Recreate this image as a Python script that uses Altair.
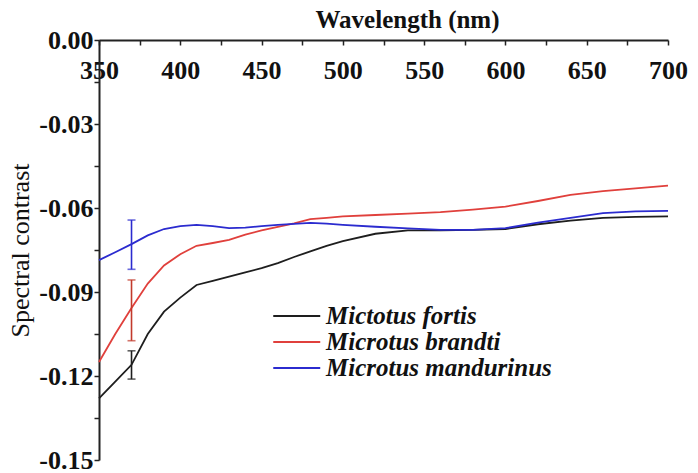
import altair as alt
import pandas as pd

wavelengths = [350, 360, 370, 380, 390, 400, 410, 420, 430, 440, 450, 460, 470,
               480, 490, 500, 520, 540, 560, 580, 600, 620, 640, 660, 680, 700]
fortis = [-0.128, -0.122, -0.116, -0.105, -0.097, -0.092, -0.0875, -0.086, -0.0845,
          -0.083, -0.0815, -0.0797, -0.0775, -0.0755, -0.0735, -0.0718, -0.0692,
          -0.068, -0.068, -0.0678, -0.0675, -0.0658, -0.0645, -0.0635, -0.0632, -0.063]
brandti = [-0.115, -0.105, -0.0957, -0.087, -0.0805, -0.0765, -0.0735, -0.0725,
           -0.0714, -0.0695, -0.068, -0.0667, -0.0655, -0.064, -0.0635, -0.063,
           -0.0625, -0.062, -0.0615, -0.0606, -0.0595, -0.0575, -0.0553, -0.054,
           -0.053, -0.052]
mandurinus = [-0.0786, -0.0758, -0.0729, -0.0698, -0.0675, -0.0665, -0.066, -0.0665,
              -0.0672, -0.067, -0.0665, -0.066, -0.0657, -0.0653, -0.0656, -0.066,
              -0.0667, -0.0673, -0.0678, -0.0678, -0.0672, -0.0652, -0.0635, -0.0618,
              -0.0612, -0.061]

series_names = ["Mictotus fortis", "Microtus brandti", "Microtus mandurinus"]
line_colors = ["#1e1e1e", "#e0403c", "#2b2bcf"]
bar_colors = ["#1e1e1e", "#c23a2c", "#2b2bcf"]

err_wl = [370, 370, 370]
err_low = [-0.1211, -0.1074, -0.0819]
err_high = [-0.111, -0.0857, -0.0643]

x_ticks = list(range(350, 701, 25))
y_ticks = [round(-0.15 + 0.015 * i, 3) for i in range(11)]

rows = []
for name, vals in zip(series_names, [fortis, brandti, mandurinus]):
    for w, v in zip(wavelengths, vals):
        rows.append({"wl": w, "val": v, "species": name})
df = pd.DataFrame(rows)

err_df = pd.DataFrame({"wl": err_wl, "lo": err_low, "hi": err_high,
                       "species": series_names})

serif = "Liberation Serif"

x_enc = alt.X("wl:Q", scale=alt.Scale(domain=[350, 700], nice=False, zero=False),
              axis=alt.Axis(orient="bottom", offset=-420, title=None, values=x_ticks,
                            labelExpr="datum.value % 50 == 0 ? datum.label : ''",
                            labelFont=serif, labelFontWeight="bold", labelFontSize=26,
                            labelColor="#111", labelFlush=False, labelOverlap=False,
                            labelPadding=12, tickSize=5, tickWidth=1.5, tickColor="#222",
                            domainWidth=2, domainColor="#222", grid=False))
y_enc = alt.Y("val:Q", scale=alt.Scale(domain=[-0.15, 0], nice=False, zero=False),
              axis=alt.Axis(title="Spectral contrast", values=y_ticks,
                            labelExpr="round(datum.value*1000) % 30 == 0 ? replace(format(datum.value, '.2f'), '\u2212', '-') : ''",
                            labelFont=serif, labelFontWeight="bold", labelFontSize=26,
                            labelColor="#111", labelPadding=1, labelOverlap=False,
                            labelFlush=False, labelOffset=0,
                            tickSize=5, tickWidth=1.5, tickColor="#222",
                            domainWidth=2, domainColor="#222", grid=False,
                            titleFont=serif, titleFontWeight="normal", titleFontSize=26,
                            titleColor="#111", titlePadding=5))

color_enc = alt.Color("species:N", scale=alt.Scale(domain=series_names, range=line_colors),
                      sort=series_names,
                      legend=alt.Legend(orient="none", legendX=173, legendY=263, title=None,
                                        symbolType="M-1,0H3", symbolSize=552,
                                        symbolStrokeWidth=2, labelFont=serif,
                                        labelFontStyle="italic", labelFontWeight="bold",
                                        labelFontSize=25, labelColor="#111",
                                        labelOffset=28, rowPadding=-1, padding=0,
                                        labelLimit=400))

lines = alt.Chart(df).mark_line(strokeWidth=1.8).encode(x=x_enc, y=y_enc, color=color_enc)

err_color = alt.Color("species:N", scale=alt.Scale(domain=series_names, range=bar_colors),
                      legend=None)
bars = alt.Chart(err_df).mark_rule(strokeWidth=1.6).encode(
    x="wl:Q", y="lo:Q", y2="hi:Q", color=err_color)
caps_lo = alt.Chart(err_df).mark_tick(orient="horizontal", size=8, thickness=1.6).encode(
    x="wl:Q", y="lo:Q", color=err_color)
caps_hi = alt.Chart(err_df).mark_tick(orient="horizontal", size=8, thickness=1.6).encode(
    x="wl:Q", y="hi:Q", color=err_color)

chart = alt.layer(lines, bars, caps_lo, caps_hi).resolve_scale(color="independent").properties(
    width=569, height=420,
    title=alt.TitleParams("Wavelength (nm)", font=serif, fontSize=25, fontWeight="bold",
                          color="#111", anchor="middle", dx=24, dy=10),
    autosize=alt.AutoSizeParams(type="none"),
    padding={"left": 99, "top": 40, "right": 30, "bottom": 13},
    background="white",
).configure_view(stroke=None)

chart.save("out.html", embed_options={"renderer": "svg", "actions": False})
